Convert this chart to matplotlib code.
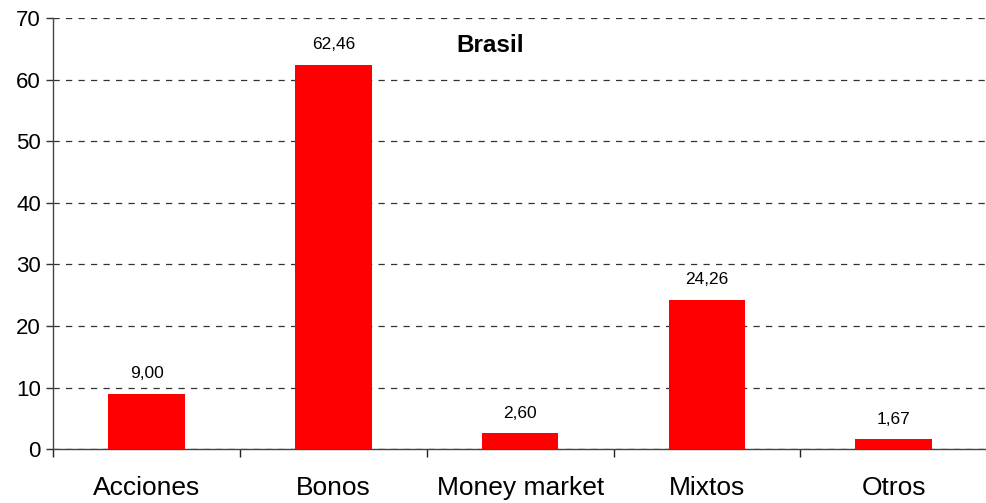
import numpy as np
import matplotlib.pyplot as plt

plt.rcParams['font.family'] = ['Liberation Sans', 'DejaVu Sans']

# Fund composition, Brasil (%)
categorias = ['Acciones', 'Bonos', 'Money market', 'Mixtos', 'Otros']
valores = [9.00, 62.46, 2.60, 24.26, 1.67]
etiquetas = ['9,00', '62,46', '2,60', '24,26', '1,67']
y_ticks = [0, 10, 20, 30, 40, 50, 60, 70]

fig = plt.figure(figsize=(9.87, 5.03), dpi=100)
ax = fig.add_axes([0.054, 0.107, 0.946, 0.857])

x = np.arange(len(categorias))
bars = ax.bar(x, valores, width=0.41, color='#ff0000', zorder=3)

for xi, v, lab in zip(x, valores, etiquetas):
    ax.text(xi, v + 2.0, lab, ha='center', va='bottom', fontsize=12.5)

ax.set_xlim(-0.5, len(categorias) - 0.5)
ax.set_ylim(0, 70)
ax.set_yticks(y_ticks)
ax.tick_params(axis='y', labelsize=16, length=5, width=1, color='#333333', pad=4)

# category labels centred, tick marks between categories
ax.set_xticks(x)
ax.set_xticklabels(categorias, fontsize=19)
ax.tick_params(axis='x', which='major', length=0, pad=19)
ax.set_xticks(np.arange(-0.5, len(categorias) - 0.4, 1), minor=True)
ax.tick_params(axis='x', which='minor', length=6, width=1, color='#222222')

ax.yaxis.grid(True, linestyle=(0, (5, 5)), color='#333333', linewidth=0.9, zorder=0)
ax.set_axisbelow(True)

for s in ['top', 'right']:
    ax.spines[s].set_visible(False)
for s in ['left', 'bottom']:
    ax.spines[s].set_color('#444444')
    ax.spines[s].set_linewidth(1.0)

ax.text(1.84, 65.6, 'Brasil', ha='center', va='center', fontsize=17.5,
        fontweight='bold')

fig.savefig('out.png', dpi=100)
